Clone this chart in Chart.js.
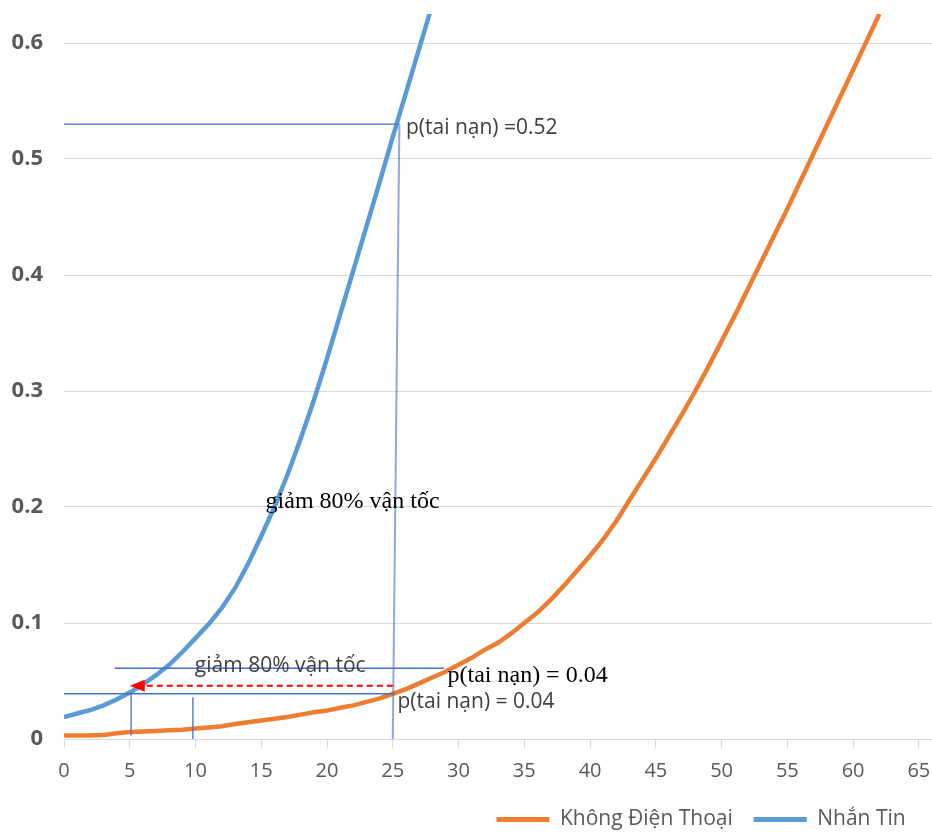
<!DOCTYPE html>
<html>
<head>
<meta charset="utf-8">
<script src="https://cdn.jsdelivr.net/npm/chart.js"></script>
<style>
html, body { margin: 0; padding: 0; background: #fff; }
#wrap { width: 932px; height: 840px; }
</style>
</head>
<body>
<div id="wrap"><canvas id="chart"></canvas></div>
<script>
// Series names (legend order)
var seriesNames = ['Không Điện Thoại', 'Nhắn Tin'];

// Speed values (x) and accident probability (y)
var speedsNoPhone = [0, 1, 2, 3, 4, 5, 6, 7, 8, 9, 10, 11, 12, 13, 14, 15, 16, 17, 18, 19, 20,
    21, 22, 23, 24, 25, 26, 27, 28, 29, 30, 31, 32, 33, 34, 35, 36, 37, 38, 39, 40,
    41, 42, 43, 44, 45, 46, 47, 48, 49, 50, 51, 52, 53, 54, 55, 56, 57, 58, 59, 60, 61, 62];
var noPhoneValues = [0.003, 0.003, 0.003, 0.0035, 0.005, 0.006, 0.0065, 0.007, 0.0075, 0.008, 0.009,
    0.010, 0.011, 0.013, 0.0145, 0.016, 0.0175, 0.019, 0.021, 0.023, 0.0245,
    0.027, 0.029, 0.032, 0.035, 0.039, 0.043, 0.048, 0.053, 0.058, 0.064,
    0.070, 0.077, 0.083, 0.091, 0.100, 0.109, 0.120, 0.132, 0.145, 0.158,
    0.172, 0.188, 0.206, 0.224, 0.242, 0.261, 0.280, 0.300, 0.321, 0.343,
    0.365, 0.388, 0.411, 0.434, 0.457, 0.481, 0.505, 0.529, 0.553, 0.577, 0.601, 0.625];

var speedsTexting = [0, 1, 2, 3, 4, 5, 6, 7, 8, 9, 10, 11, 12, 13, 14, 15, 16, 17, 18, 19, 20,
    21, 22, 23, 24, 25, 26, 27, 28];
var textingValues = [0.019, 0.022, 0.025, 0.029, 0.034, 0.040, 0.047, 0.055, 0.064, 0.075, 0.087,
    0.099, 0.113, 0.130, 0.151, 0.175, 0.200, 0.228, 0.259, 0.292, 0.328,
    0.366, 0.404, 0.442, 0.480, 0.519, 0.557, 0.595, 0.633];

// Tick labels
var xTickLabels = [0, 5, 10, 15, 20, 25, 30, 35, 40, 45, 50, 55, 60, 65];
var yTickLabels = [0, 0.1, 0.2, 0.3, 0.4, 0.5, 0.6];

// Guide lines and notes drawn on top, in data units
var guideBlue = '#4472C4';
var guideLines = [
    { from: [0, 0.53], to: [25.5, 0.53], color: guideBlue, width: 1.3 },
    { from: [25.5, 0.53], to: [25, 0], color: 'rgba(68,114,196,0.6)', width: 2 },
    { from: [0, 0.039], to: [25, 0.039], color: guideBlue, width: 1.3 },
    { from: [5.1, 0.04], to: [5.1, 0.003], color: guideBlue, width: 1.3 },
    { from: [9.8, 0.036], to: [9.8, 0], color: guideBlue, width: 1.3 },
    { from: [3.85, 0.061], to: [28.9, 0.061], color: guideBlue, width: 1.3 }
];
var arrowFrom = [25, 0.046];
var arrowTo = [5.0, 0.046];

var notes = [
    { text: 'p(tai nạn) =0.52', at: [26.0, 0.5218], font: '21px "Open Sans"', color: '#404040' },
    { text: 'giảm 80% vận tốc', at: [15.33, 0.199], font: '24px "Liberation Serif"', color: '#000' },
    { text: 'giảm 80% vận tốc', at: [9.95, 0.0576], font: '21px "Open Sans"', color: '#404040' },
    { text: 'p(tai nạn) = 0.04', at: [29.16, 0.049], font: '24px "Liberation Serif"', color: '#000' },
    { text: 'p(tai nạn) = 0.04', at: [25.36, 0.0265], font: '21px "Open Sans"', color: '#404040' }
];

var guidePlugin = {
    id: 'guides',
    afterDatasetsDraw: function(chart) {
        var ctx = chart.ctx;
        var xs = chart.scales.x, ys = chart.scales.y;
        function px(p) { return [xs.getPixelForValue(p[0]), ys.getPixelForValue(p[1])]; }
        ctx.save();
        guideLines.forEach(function(g) {
            var a = px(g.from), b = px(g.to);
            ctx.beginPath();
            ctx.strokeStyle = g.color;
            ctx.lineWidth = g.width;
            ctx.moveTo(a[0], a[1]);
            ctx.lineTo(b[0], b[1]);
            ctx.stroke();
        });

        // red dashed arrow
        var s = px(arrowFrom), e = px(arrowTo);
        ctx.beginPath();
        ctx.strokeStyle = '#FF0000';
        ctx.lineWidth = 2;
        ctx.setLineDash([6, 4]);
        ctx.moveTo(s[0], s[1]);
        ctx.lineTo(e[0] + 14, e[1]);
        ctx.stroke();
        ctx.setLineDash([]);
        ctx.beginPath();
        ctx.fillStyle = '#FF0000';
        ctx.moveTo(e[0], e[1]);
        ctx.lineTo(e[0] + 15, e[1] - 6);
        ctx.lineTo(e[0] + 15, e[1] + 6);
        ctx.closePath();
        ctx.fill();

        notes.forEach(function(n) {
            var p = px(n.at);
            ctx.font = n.font;
            ctx.fillStyle = n.color;
            ctx.textAlign = 'left';
            ctx.textBaseline = 'alphabetic';
            ctx.fillText(n.text, p[0], p[1]);
        });
        ctx.restore();
    }
};

function toPoints(xs, ys) {
    return xs.map(function(x, i) { return { x: x, y: ys[i] }; });
}

new Chart(document.getElementById('chart'), {
    type: 'line',
    data: {
        datasets: [{
            label: seriesNames[0],
            data: toPoints(speedsNoPhone, noPhoneValues),
            borderColor: '#ED7D31',
            backgroundColor: '#ED7D31',
            borderWidth: 4.5,
            pointRadius: 0,
            tension: 0
        }, {
            label: seriesNames[1],
            data: toPoints(speedsTexting, textingValues),
            borderColor: '#5B9BD5',
            backgroundColor: '#5B9BD5',
            borderWidth: 4.5,
            pointRadius: 0,
            tension: 0
        }]
    },
    options: {
        responsive: true,
        maintainAspectRatio: false,
        animation: false,
        layout: { padding: { top: 14, left: 0, right: 0, bottom: 0 } },
        plugins: {
            tooltip: { enabled: false },
            legend: {
                position: 'bottom',
                align: 'end',
                labels: {
                    boxWidth: 53,
                    boxHeight: 5,
                    padding: 10,
                    color: '#595959',
                    font: { family: 'Open Sans', size: 21 },
                    generateLabels: function(chart) {
                        var items = Chart.defaults.plugins.legend.labels.generateLabels(chart);
                        // widen the gap between entries and keep the block off the right edge
                        items[0].text = items[0].text + '  ';
                        items[1].text = items[1].text + '   ';
                        items.forEach(function(it) { it.lineWidth = 0; });
                        return items;
                    }
                }
            }
        },
        scales: {
            x: {
                type: 'linear',
                min: 0,
                max: 66,
                afterFit: function(s) {
                    s.height = 60;
                    s.paddingLeft = 0;
                    s.paddingRight = 0;
                },
                afterBuildTicks: function(s) {
                    s.ticks = xTickLabels.map(function(v) { return { value: v }; });
                },
                ticks: {
                    color: '#595959',
                    font: { family: 'Open Sans', size: 20 },
                    padding: 11,
                    maxRotation: 0,
                    callback: function(v) { return String(v); }
                },
                grid: {
                    drawOnChartArea: false,
                    drawTicks: true,
                    tickLength: 9,
                    color: '#d9d9d9'
                },
                border: { display: true, color: '#d9d9d9' }
            },
            y: {
                min: 0,
                max: 0.625,
                afterFit: function(s) {
                    s.width = 64;
                    s.paddingTop = 0;
                    s.paddingBottom = 0;
                },
                afterBuildTicks: function(s) {
                    s.ticks = yTickLabels.map(function(v) { return { value: v }; });
                },
                ticks: {
                    color: '#595959',
                    font: { family: 'Open Sans', size: 22, weight: 'bold' },
                    padding: 21,
                    callback: function(v) { return v === 0 ? '0' : v.toFixed(1); }
                },
                grid: { color: '#d9d9d9', drawTicks: false },
                border: { display: false }
            }
        }
    },
    plugins: [guidePlugin]
});
</script>
</body>
</html>
